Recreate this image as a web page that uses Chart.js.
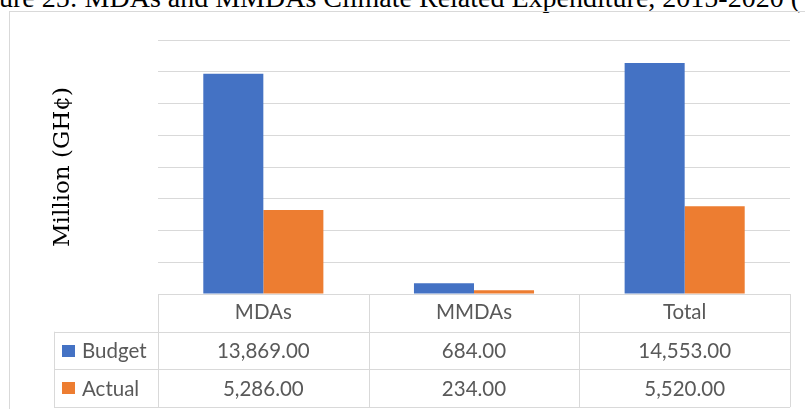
<!DOCTYPE html>
<html>
<head>
<meta charset="utf-8">
<script src="https://cdn.jsdelivr.net/npm/chart.js@4.4.0/dist/chart.umd.min.js"></script>
<style>
  html, body { margin: 0; padding: 0; background: #fff; overflow: hidden; }
  #wrap { position: relative; width: 805px; height: 409px; overflow: hidden; }
  #title { position: absolute; right: 5px; top: -16px; font: 28px/28px "Liberation Serif", serif; white-space: nowrap; color: #000; }
  #frame { position: absolute; left: 9px; top: 11px; width: 830px; height: 430px; border: 1px solid #d9d9d9; }
  #chart { position: absolute; left: 0; top: 0; }
</style>
</head>
<body>
<div id="wrap">
  <div id="title">Figure 25: MDAs and MMDAs Climate Related Expenditure, 2015-2020 (</div>
  <div id="frame"></div>
  <canvas id="chart" width="805" height="409"></canvas>
</div>
<script>
/* ---------- Dados ---------- */
const categories = ['MDAs', 'MMDAs', 'Total'];
const seriesNames = ['Budget', 'Actual'];
const budget = [13869, 684, 14553];
const actual = [5286, 234, 5520];
const yMax = 16000;
const yStep = 2000;

const colors = ['#4472C4', '#ED7D31'];
const gridColor = '#d9d9d9';
const textColor = '#595959';
const tableFont = '20.5px Lato';

/* ---------- Tabela de dados (estilo Excel) ---------- */
const dataTable = {
    id: 'dataTable',
    afterDraw(chart) {
        const { ctx, chartArea } = chart;
        const x = chart.scales.x;
        const colW = (chartArea.right - chartArea.left) / categories.length;
        const top = chartArea.bottom;
        const rowH = 37.7;
        const keyLeft = 54;
        const rows = [budget, actual];
        const px = v => Math.round(v) + 0.5;

        ctx.save();
        ctx.strokeStyle = gridColor;
        ctx.lineWidth = 1;
        ctx.beginPath();
        // linha do cabeçalho
        ctx.moveTo(chartArea.left, px(top));
        ctx.lineTo(chartArea.right, px(top));
        for (let r = 1; r <= rows.length; r++) {
            const y = px(top + rowH * r);
            ctx.moveTo(keyLeft, y);
            ctx.lineTo(chartArea.right, y);
        }
        const bottom = top + rowH * (rows.length + 1);
        ctx.moveTo(chartArea.right, px(bottom)); ctx.lineTo(keyLeft, px(bottom));
        // verticais
        ctx.moveTo(px(keyLeft), top + rowH); ctx.lineTo(px(keyLeft), bottom);
        for (let i = 0; i <= categories.length; i++) {
            const cx = px(chartArea.left + colW * i);
            ctx.moveTo(cx, top); ctx.lineTo(cx, bottom);
        }
        ctx.stroke();

        ctx.font = tableFont;
        ctx.textBaseline = 'middle';
        rows.forEach((vals, r) => {
            const cy = top + rowH * (r + 1.5);
            ctx.fillStyle = colors[r];
            ctx.fillRect(62, Math.round(cy - 6), 13, 12);
            ctx.fillStyle = textColor;
            ctx.textAlign = 'left';
            ctx.fillText(seriesNames[r], 82, cy + 1);
            ctx.textAlign = 'center';
            vals.forEach((v, i) => {
                const label = v.toLocaleString('en-US', { minimumFractionDigits: 2, maximumFractionDigits: 2 });
                ctx.fillText(label, x.getPixelForValue(i), cy + 1);
            });
        });
        ctx.restore();
    }
};

/* ---------- Gráfico ---------- */
new Chart(document.getElementById('chart').getContext('2d'), {
    type: 'bar',
    data: {
        labels: categories,
        datasets: [
            { label: seriesNames[0], data: budget, backgroundColor: colors[0] },
            { label: seriesNames[1], data: actual, backgroundColor: colors[1] }
        ]
    },
    options: {
        responsive: false,
        animation: false,
        devicePixelRatio: 1,
        layout: { padding: { left: 40, top: 40, right: 15, bottom: 2 } },
        datasets: { bar: { barPercentage: 1, categoryPercentage: 0.57, borderWidth: 0 } },
        plugins: { legend: { display: false }, tooltip: { enabled: false } },
        scales: {
            x: {
                grid: { display: false, drawTicks: false },
                border: { display: false },
                ticks: { color: textColor, font: { family: 'Lato', size: 20.5 }, padding: 6 },
                afterFit: s => { s.height = 113; }
            },
            y: {
                min: 0,
                max: yMax,
                ticks: { display: false, stepSize: yStep },
                grid: { color: gridColor, drawTicks: false },
                border: { display: false },
                title: {
                    display: true,
                    text: 'Million (GH¢)',
                    color: '#000',
                    font: { family: 'DejaVu Serif', size: 23 },
                    padding: { top: 9, bottom: 0 }
                },
                afterFit: s => { s.width = 118; }
            }
        }
    },
    plugins: [dataTable]
});
</script>
</body>
</html>
